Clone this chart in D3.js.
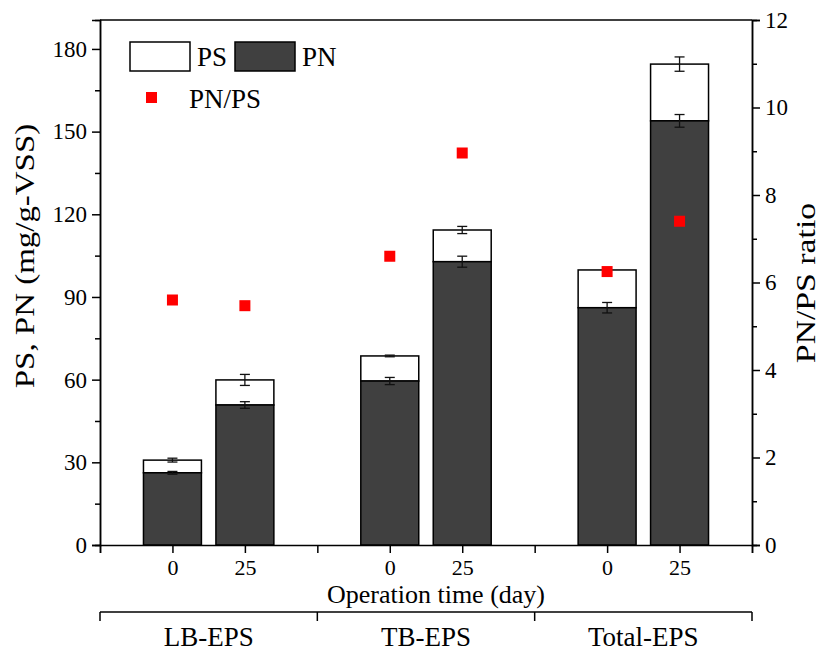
<!DOCTYPE html>
<html>
<head>
<meta charset="utf-8">
<script src="https://cdn.jsdelivr.net/npm/d3@7"></script>
<style>
  html, body { margin: 0; padding: 0; background: #fff; }
  svg { display: block; }
  text { font-family: "Liberation Serif", "Times New Roman", serif; fill: #000; }
</style>
</head>
<body>
<svg id="chart" width="827" height="655"></svg>
<script>
// EPS fractions and sampling days
const groups = ["LB-EPS", "TB-EPS", "Total-EPS"];
const days = ["0", "25"];
// positions on the category axis (slot index), two bars per group
const slots = [1, 2, 4, 5, 7, 8];
// protein (PN) and polysaccharide (PS) contents, mg/g-VSS
const pn = [26.2, 50.8, 59.5, 102.8, 86.1, 153.9];
const ps = [4.6, 9.1, 9.1, 11.5, 13.7, 20.6];
const pnErr = [0.5, 1.2, 1.3, 2.0, 1.9, 2.3];
const psErr = [0.7, 2.0, 0.3, 1.3, 0, 2.6];
// PN/PS ratio
const ratio = [5.6, 5.47, 6.6, 8.96, 6.25, 7.4];
const leftTicks = [0, 30, 60, 90, 120, 150, 180];
const rightTicks = [0, 2, 4, 6, 8, 10, 12];

const FONT = "Liberation Serif";
const svg = d3.select("#chart");
const L = 100, R = 752, T = 20, B = 545;

const x = d3.scaleLinear().domain([0, 9]).range([L, R]);
const y = d3.scaleLinear().domain([0, 190.5]).range([B, T]);
const y2 = d3.scaleLinear().domain([0, 12]).range([B, T]);
const bw = (x(1) - x(0)) * 0.8;

const rows = slots.map((s, i) => ({
  s, day: days[i % 2], pn: pn[i], ps: ps[i], pnE: pnErr[i], psE: psErr[i], r: ratio[i]
}));

// stacked bars: PS on top of PN
const bars = svg.append("g");
bars.selectAll("rect.ps").data(rows).join("rect")
  .attr("x", d => x(d.s) - bw / 2)
  .attr("y", d => y(d.pn + d.ps))
  .attr("width", bw)
  .attr("height", d => y(d.pn) - y(d.pn + d.ps))
  .attr("fill", "#fff").attr("stroke", "#000").attr("stroke-width", 1.5);
bars.selectAll("rect.pn").data(rows).join("rect")
  .attr("x", d => x(d.s) - bw / 2)
  .attr("y", d => y(d.pn))
  .attr("width", bw)
  .attr("height", d => y(0) - y(d.pn))
  .attr("fill", "#404040").attr("stroke", "#000").attr("stroke-width", 1.5);

// error bars
function errBars(val, err) {
  const g = svg.append("g").attr("stroke", "#111").attr("stroke-width", 1.3).attr("fill", "none");
  rows.forEach(d => {
    const v = val(d), e = err(d);
    if (!e) return;
    const cx = x(d.s), cw = 5;
    g.append("line").attr("x1", cx).attr("x2", cx).attr("y1", y(v - e)).attr("y2", y(v + e));
    g.append("line").attr("x1", cx - cw).attr("x2", cx + cw).attr("y1", y(v - e)).attr("y2", y(v - e));
    g.append("line").attr("x1", cx - cw).attr("x2", cx + cw).attr("y1", y(v + e)).attr("y2", y(v + e));
  });
}
errBars(d => d.pn, d => d.pnE);
errBars(d => d.pn + d.ps, d => d.psE);

// PN/PS ratio markers
svg.append("g").selectAll("rect").data(rows).join("rect")
  .attr("x", d => x(d.s) - 5.5).attr("y", d => y2(d.r) - 5.5)
  .attr("width", 11).attr("height", 11).attr("fill", "#ff0000");

// axes
const axL = svg.append("g").attr("transform", `translate(${L},0)`)
  .call(d3.axisLeft(y).tickValues(leftTicks).tickSize(8).tickPadding(5).tickFormat(d3.format("d")));
svg.append("g").attr("transform", `translate(${L},0)`)
  .call(d3.axisLeft(y).tickValues(d3.range(15, 190, 30)).tickSize(5).tickFormat(""));
const axR = svg.append("g").attr("transform", `translate(${R},0)`)
  .call(d3.axisRight(y2).tickValues(rightTicks).tickSize(8).tickPadding(5).tickFormat(d3.format("d")));
svg.append("g").attr("transform", `translate(${R},0)`)
  .call(d3.axisRight(y2).tickValues(d3.range(1, 12, 2)).tickSize(5).tickFormat(""));
const axB = svg.append("g").attr("transform", `translate(0,${B})`)
  .call(d3.axisBottom(x).tickValues(d3.range(0, 10)).tickSize(8).tickPadding(6)
    .tickFormat(v => { const i = slots.indexOf(v); return i < 0 ? "" : days[i % 2]; }));
[axL, axR].forEach(a => a.attr("font-family", FONT).attr("font-size", 23));
axB.attr("font-family", FONT).attr("font-size", 22);
svg.selectAll(".tick text").attr("fill", "#000");
svg.selectAll(".domain").attr("stroke", "#000").attr("stroke-width", 1.5);
svg.selectAll(".tick line").attr("stroke", "#000").attr("stroke-width", 1.5);

// top frame line
svg.append("line").attr("x1", L).attr("x2", R).attr("y1", T).attr("y2", T)
  .attr("stroke", "#000").attr("stroke-width", 1.5);

// axis titles (vertical ones use an elongated serif face)
svg.append("text").attr("x", 436).attr("y", 603).attr("text-anchor", "middle")
  .attr("font-family", FONT).attr("font-size", 26).text("Operation time (day)");
svg.append("text").attr("transform", "translate(34,256) rotate(-90) scale(1.22,1)")
  .attr("text-anchor", "middle").attr("font-family", FONT).attr("font-size", 27).text("PS, PN (mg/g-VSS)");
svg.append("text").attr("transform", "translate(815,283) rotate(-90) scale(1.25,1)")
  .attr("text-anchor", "middle").attr("font-family", FONT).attr("font-size", 27).text("PN/PS ratio");

// group bracket
const gx = d3.scaleLinear().domain([0, 3]).range([L, R]);
const grp = svg.append("g").attr("stroke", "#000").attr("stroke-width", 1.5);
grp.append("line").attr("x1", L).attr("x2", R).attr("y1", 612).attr("y2", 612);
[0, 1, 2, 3].forEach(k => grp.append("line").attr("x1", gx(k)).attr("x2", gx(k)).attr("y1", 612).attr("y2", 621));
svg.append("g").selectAll("text").data(groups).join("text")
  .attr("x", (d, i) => gx(i + 0.5)).attr("y", 646).attr("text-anchor", "middle")
  .attr("font-family", FONT).attr("font-size", 27).text(d => d);

// legend
const lg = svg.append("g").attr("font-family", FONT).attr("font-size", 27);
lg.append("rect").attr("x", 130).attr("y", 42).attr("width", 60).attr("height", 29)
  .attr("fill", "#fff").attr("stroke", "#000").attr("stroke-width", 1.5);
lg.append("text").attr("x", 197).attr("y", 66).text("PS");
lg.append("rect").attr("x", 235).attr("y", 42).attr("width", 60).attr("height", 29)
  .attr("fill", "#404040").attr("stroke", "#000").attr("stroke-width", 1.5);
lg.append("text").attr("x", 302).attr("y", 66).text("PN");
lg.append("rect").attr("x", 146).attr("y", 92).attr("width", 11).attr("height", 11).attr("fill", "#ff0000");
lg.append("text").attr("x", 189).attr("y", 108).text("PN/PS");
</script>
</body>
</html>
